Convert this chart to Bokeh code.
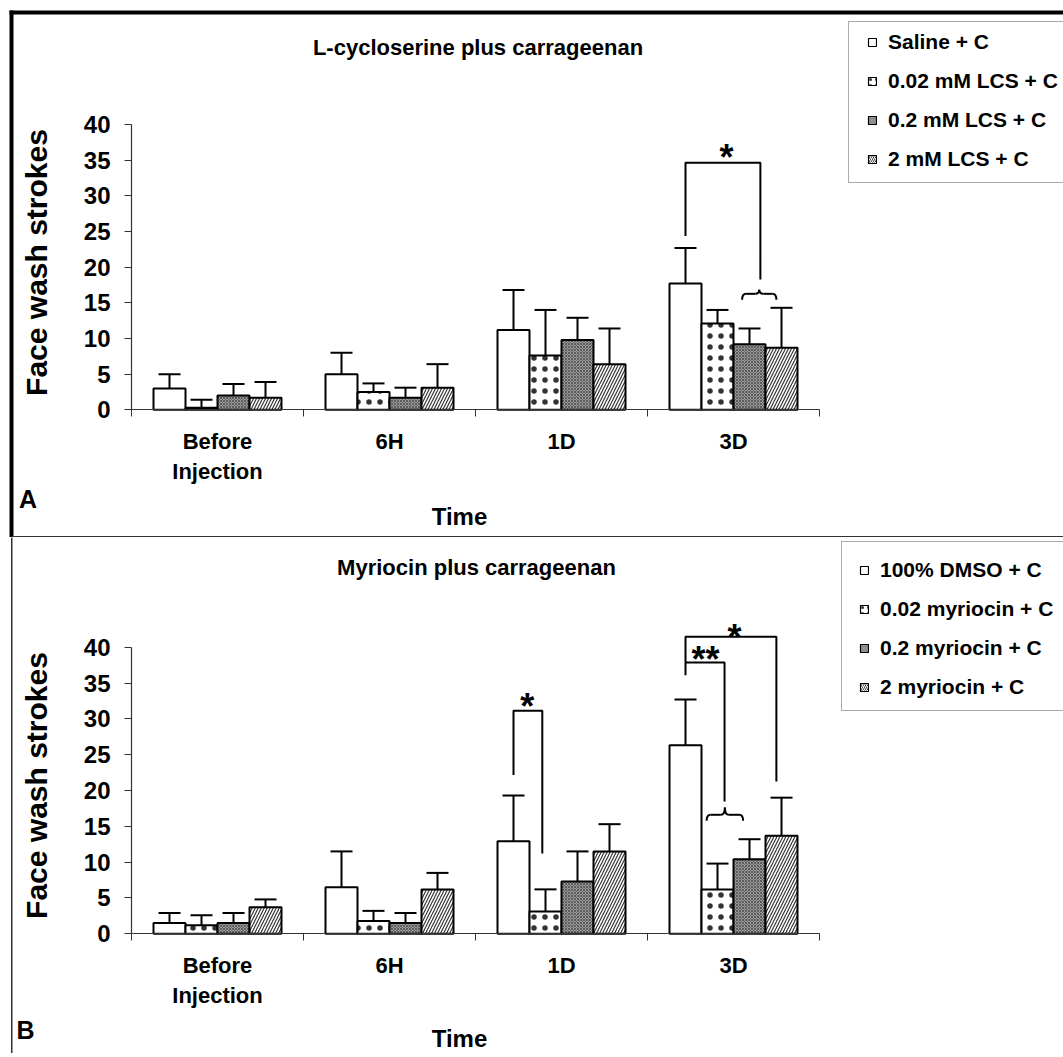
import math
from bokeh.plotting import figure
from bokeh.models import (ColumnDataSource, FixedTicker, Range1d, Whisker, TeeHead,
                          Legend, LegendItem, BoxAnnotation)
from bokeh.layouts import column
from bokeh.embed import file_html
from bokeh.resources import INLINE
from bokeh.core.properties import value

# ---------------- data ----------------
categories = ["Before\nInjection", "6H", "1D", "3D"]
y_ticks = [0, 5, 10, 15, 20, 25, 30, 35, 40]
x_title = "Time"
y_title = "Face wash strokes"

lcs_title = "L-cycloserine plus carrageenan"
lcs_series = ["Saline + C", "0.02 mM LCS + C", "0.2 mM LCS + C", "2 mM LCS + C"]
lcs_saline = [3.0, 5.0, 11.2, 17.7]
lcs_saline_err = [2.0, 3.0, 5.6, 5.0]
lcs_002 = [0.3, 2.5, 7.6, 12.1]
lcs_002_err = [1.1, 1.2, 6.4, 1.9]
lcs_02 = [2.0, 1.7, 9.8, 9.2]
lcs_02_err = [1.6, 1.4, 3.1, 2.2]
lcs_2 = [1.7, 3.1, 6.4, 8.7]
lcs_2_err = [2.2, 3.3, 5.0, 5.6]

myr_title = "Myriocin plus carrageenan"
myr_series = ["100% DMSO + C", "0.02 myriocin + C", "0.2 myriocin + C", "2 myriocin + C"]
myr_dmso = [1.5, 6.5, 12.9, 26.3]
myr_dmso_err = [1.4, 5.0, 6.4, 6.4]
myr_002 = [1.2, 1.8, 3.1, 6.2]
myr_002_err = [1.4, 1.4, 3.1, 3.6]
myr_02 = [1.5, 1.5, 7.3, 10.4]
myr_02_err = [1.4, 1.4, 4.2, 2.8]
myr_2 = [3.7, 6.2, 11.5, 13.7]
myr_2_err = [1.1, 2.3, 3.8, 5.3]

# ---------------- style / layout ----------------
FONT = "Liberation Sans"
FIG_W = 1063
AXIS_LEFT_PX = 131.0     # pixel of x = 0
CAT_PX = 172.0           # pixels per category
BW = 32 / CAT_PX         # bar width in category units
AX_COLOR = "#333333"

STYLES = [
    dict(fill_color="white"),
    dict(fill_color="white", hatch_pattern="dot", hatch_scale=11, hatch_weight=0.6,
         hatch_color="#333333"),
    dict(fill_color="#9a9a9a", hatch_pattern="diagonal_cross", hatch_scale=3,
         hatch_weight=0.6, hatch_color="#333333"),
    dict(fill_color="white", hatch_pattern="right_diagonal_line", hatch_scale=6,
         hatch_weight=1.2, hatch_color="#333333"),
]
LEGEND_STYLES = [
    dict(fill_color="white"),
    dict(fill_color="white", hatch_pattern="dot", hatch_scale=6, hatch_weight=0.6,
         hatch_color="#333333"),
    dict(fill_color="#8f8f8f"),
    dict(fill_color="white", hatch_pattern="right_diagonal_line", hatch_scale=4,
         hatch_weight=1.0, hatch_color="#444444"),
]


def slot_x(ci, slot):
    return ci + 0.5 + slot * BW


def make_panel(title, names, means, errs, height, zero_px, ppu, title_px, ylab_px, time_px,
               letter, letter_px, legend_left, legend_bottom, legend_pad):
    def xd(px):
        return (px - AXIS_LEFT_PX) / CAT_PX

    def yd(py):
        return (zero_px - py) / ppu

    p = figure(width=FIG_W, height=height, x_range=Range1d(xd(0), xd(FIG_W)),
               y_range=Range1d(yd(height), yd(0)),
               output_backend="svg", toolbar_location=None, tools="", min_border=0)
    p.min_border_left = 0
    p.min_border_right = 0
    p.min_border_top = 0
    p.min_border_bottom = 0
    p.xgrid.visible = False
    p.ygrid.visible = False
    p.outline_line_color = None
    p.background_fill_color = "white"
    p.border_fill_color = "white"

    items = []
    for s, (name, m, e) in enumerate(zip(names, means, errs)):
        xs = [slot_x(i, s - 1.5) for i in range(len(categories))]
        src = ColumnDataSource(dict(x=xs, top=m, upper=[a + b for a, b in zip(m, e)]))
        p.vbar(x="x", top="top", bottom=0, width=BW, source=src,
               line_color="black", line_width=2, **STYLES[s])
        w = Whisker(base="x", lower="top", upper="upper", source=src,
                    line_color="black", line_width=2, lower_head=None,
                    upper_head=TeeHead(size=22, line_color="black", line_width=2))
        p.add_layout(w)
        # legend swatch: same bar style, drawn just below the visible canvas
        proxy = p.vbar(x=[2.0], top=[yd(height + 30)], bottom=[yd(height + 40)], width=BW,
                       line_color="black", line_width=1.2, **LEGEND_STYLES[s])
        items.append(LegendItem(label=name, renderers=[proxy]))

    # axes fixed at the data origin
    xa = p.xaxis[0]
    xa.fixed_location = 0
    xa.bounds = (0, len(categories))
    xa.ticker = FixedTicker(ticks=[i + 0.5 for i in range(len(categories))],
                            minor_ticks=list(range(len(categories) + 1)))
    xa.major_label_overrides = {i + 0.5: c for i, c in enumerate(categories)}
    xa.major_tick_in = 0
    xa.major_tick_out = 0
    xa.major_tick_line_color = None
    xa.minor_tick_in = 0
    xa.minor_tick_out = 7
    xa.minor_tick_line_color = AX_COLOR
    xa.major_label_standoff = 12
    xa.major_label_text_font_size = "22px"

    ya = p.yaxis[0]
    ya.fixed_location = 0
    ya.ticker = FixedTicker(ticks=y_ticks)
    ya.bounds = (0, 40)
    ya.major_tick_in = 0
    ya.major_tick_out = 7
    ya.minor_tick_line_color = None
    ya.major_tick_line_color = AX_COLOR
    ya.major_label_standoff = 14
    ya.major_label_text_font_size = "24px"

    for ax in (xa, ya):
        ax.axis_line_color = AX_COLOR
        ax.axis_line_width = 1.2
        ax.major_label_text_font = FONT
        ax.major_label_text_font_style = "bold"
        ax.major_label_text_color = "black"

    def txt(x, y, t, size, angle=0.0, align="center"):
        p.text(x=[x], y=[y], text=[t], angle=angle, text_font=value(FONT),
               text_font_style="bold", text_font_size=size, text_align=align,
               text_baseline="middle", text_color="black")

    txt(xd(title_px[0]), yd(title_px[1]), title, "22px")
    txt(xd(ylab_px[0]), yd(ylab_px[1]), y_title, "30px", angle=math.pi / 2)
    txt(xd(time_px[0]), yd(time_px[1]), x_title, "24px")
    txt(xd(letter_px[0]), yd(letter_px[1]), letter, "25px")

    leg = Legend(items=items, location=(legend_left, round(height - legend_bottom)),
                 label_text_font=FONT, label_text_font_style="bold",
                 label_text_font_size="21px", label_text_color="black",
                 glyph_width=10, glyph_height=10,
                 label_height=24, spacing=15, padding=legend_pad, margin=0,
                 label_standoff=11, border_line_color="#555555", border_line_width=1.5,
                 background_fill_color="white", background_fill_alpha=1.0)
    p.add_layout(leg)
    return p, xd, yd


def bracket(p, xs, ys):
    p.line(xs, ys, line_color="black", line_width=2)


def brace(p, x0, x1, yb, h1, h):
    r = 4 / CAT_PX
    xm = (x0 + x1) / 2
    kw = dict(line_color="black", line_width=2)
    p.quadratic(x0=[x0, xm - r, xm, x1 - r], y0=[yb, yb + h1, yb + h, yb + h1],
                x1=[x0 + r, xm, xm + r, x1], y1=[yb + h1, yb + h, yb + h1, yb],
                cx=[x0, xm, xm, x1], cy=[yb + h1, yb + h1, yb + h1, yb + h1], **kw)
    p.segment(x0=[x0 + r, xm + r], y0=[yb + h1, yb + h1],
              x1=[xm - r, x1 - r], y1=[yb + h1, yb + h1], **kw)


def star(p, x, y, t):
    p.text(x=[x], y=[y], text=[t], text_font=value(FONT), text_font_style="bold",
           text_font_size="36px", text_align="center", text_baseline="alphabetic",
           text_color="black")


def box(p, l, r, t, b, color="black"):
    p.add_layout(BoxAnnotation(left=l, right=r, top=t, bottom=b, fill_color=color,
                               fill_alpha=1.0, line_color=None))


H1 = 537
H2 = 516

# ---------------- panel A ----------------
pA, xdA, ydA = make_panel(
    lcs_title, lcs_series,
    [lcs_saline, lcs_002, lcs_02, lcs_2],
    [lcs_saline_err, lcs_002_err, lcs_02_err, lcs_2_err],
    height=H1, zero_px=409.3, ppu=7.1325, title_px=(477.5, 47), ylab_px=(36, 262),
    time_px=(459, 516), letter="A", letter_px=(27.5, 498),
    legend_left=848, legend_bottom=183.3,
    legend_pad=dict(left=18, right=45, top=8, bottom=11))
ci = 3
bracket(pA, [slot_x(ci, -1.5), slot_x(ci, -1.5), slot_x(ci, 0.84), slot_x(ci, 0.84)],
        [24.35, 34.63, 34.63, 18.27])
star(pA, slot_x(ci, -0.22), 35.4, "*")
brace(pA, slot_x(ci, 0.27), slot_x(ci, 1.34), 15.42, 0.84, 1.4)
box(pA, xdA(9), xdA(1080), ydA(10), ydA(14))
box(pA, xdA(9), xdA(13), ydA(10), ydA(H1 + 5))
box(pA, xdA(11), xdA(1080), ydA(535.5), ydA(537), "#333333")

# ---------------- panel B ----------------
pB, xdB, ydB = make_panel(
    myr_title, myr_series,
    [myr_dmso, myr_002, myr_02, myr_2],
    [myr_dmso_err, myr_002_err, myr_02_err, myr_2_err],
    height=H2, zero_px=933.3 - H1, ppu=7.165, title_px=(476, 567 - H1),
    ylab_px=(36, 785 - H1), time_px=(459, 1038 - H1), letter="B",
    letter_px=(25, 1029 - H1), legend_left=841, legend_bottom=710.7 - H1,
    legend_pad=dict(left=17, right=45, top=16, bottom=11))
ci = 2
bracket(pB, [slot_x(ci, -1.5), slot_x(ci, -1.5), slot_x(ci, -0.6), slot_x(ci, -0.6)],
        [22.15, 31.12, 31.12, 11.2])
star(pB, slot_x(ci, -1.07), 31.75, "*")
ci = 3
bracket(pB, [slot_x(ci, -1.5), slot_x(ci, -1.5), slot_x(ci, 1.34), slot_x(ci, 1.34)],
        [36.1, 41.45, 41.45, 21.26])
bracket(pB, [slot_x(ci, -1.5), slot_x(ci, -0.28), slot_x(ci, -0.28)],
        [37.87, 37.87, 18.46])
star(pB, slot_x(ci, -0.875), 38.35, "**")
star(pB, slot_x(ci, 0.03), 41.3, "*")
brace(pB, slot_x(ci, -0.84), slot_x(ci, 0.30), 15.77, 0.84, 1.86)
box(pB, xdB(10.5), xdB(12), ydB(-5), ydB(H2 + 5), "#333333")

layout = column(pA, pB, spacing=0)
open("out.html", "w").write(file_html(layout, INLINE))
